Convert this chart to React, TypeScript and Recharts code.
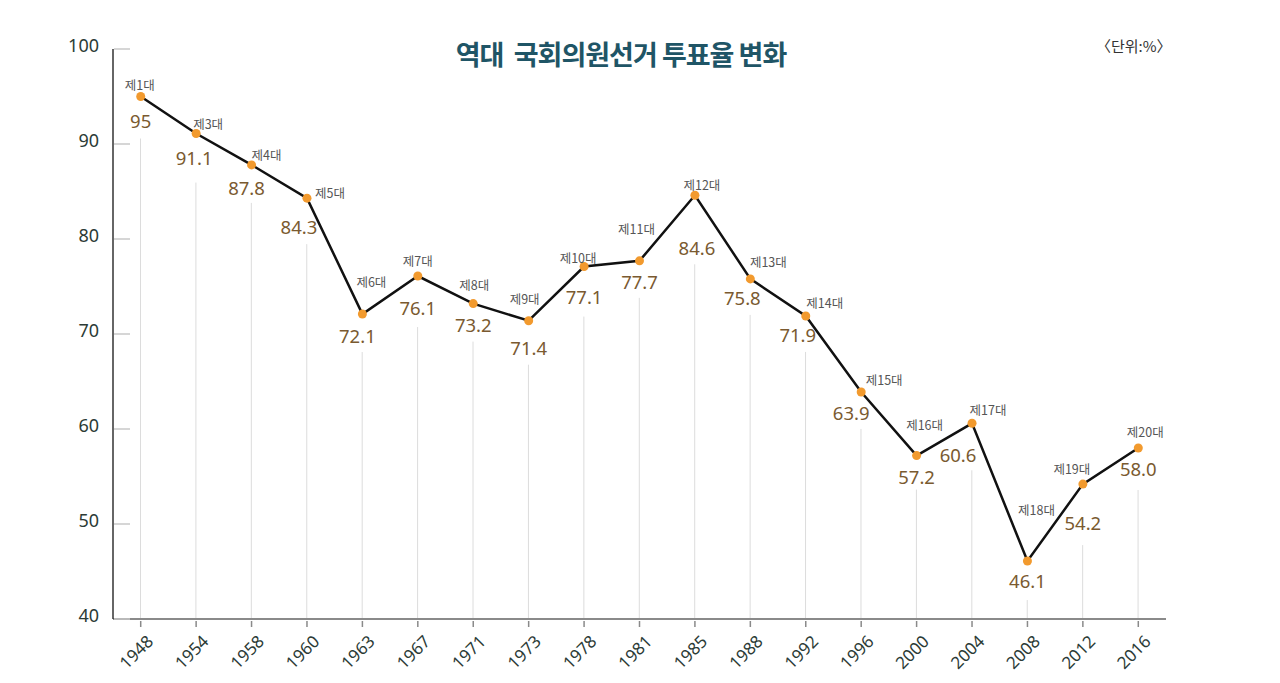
import React from "react";
import {
  ComposedChart,
  Line,
  Bar,
  XAxis,
  YAxis,
  LabelList,
} from "recharts";

const YEARS = [
  "1948", "1954", "1958", "1960", "1963", "1967", "1971", "1973", "1978", "1981",
  "1985", "1988", "1992", "1996", "2000", "2004", "2008", "2012", "2016",
];
const TERMS = [
  "제1대", "제3대", "제4대", "제5대", "제6대", "제7대", "제8대", "제9대", "제10대", "제11대",
  "제12대", "제13대", "제14대", "제15대", "제16대", "제17대", "제18대", "제19대", "제20대",
];
const TURNOUT = [
  95, 91.1, 87.8, 84.3, 72.1, 76.1, 73.2, 71.4, 77.1, 77.7,
  84.6, 75.8, 71.9, 63.9, 57.2, 60.6, 46.1, 54.2, 58.0,
];
const VALUE_TEXT = [
  "95", "91.1", "87.8", "84.3", "72.1", "76.1", "73.2", "71.4", "77.1", "77.7",
  "84.6", "75.8", "71.9", "63.9", "57.2", "60.6", "46.1", "54.2", "58.0",
];
const Y_TICKS = [40, 50, 60, 70, 80, 90, 100];

// label placement around each point: [nameDx, nameDy, valueDx, valueDy, dropGap]
const PLACEMENT = [
  [-1, -12, 0, 24, 42],
  [12, -10, -2, 24, 49],
  [15, -10, -5, 23, 38],
  [23, -6, -8, 28, 46],
  [9, -33, -5, 21, 38],
  [0, -16, 0, 31, 51],
  [1, -19, 0, 21, 38],
  [-4, -22, 0, 27, 44],
  [-6, -9, 0, 30, 50],
  [-3, -32, 0, 21, 37],
  [7, -11, 2, 52, 69],
  [18, -17, -8, 19, 36],
  [19, -13, -8, 19, 36],
  [23, -12, -10, 21, 37],
  [8, -31, 0, 21, 34],
  [16, -14, -14, 31, 47],
  [9, -52, 0, 19, 39],
  [-11, -16, 0, 38, 61],
  [7, -17, 0, 20, 42],
];

const data = YEARS.map((year, i) => ({
  year,
  term: TERMS[i],
  turnout: TURNOUT[i],
}));

const NUM_FONT = "'Noto Sans', 'Noto Sans CJK KR', sans-serif";
const KR_FONT = "'Noto Sans CJK KR', 'Noto Sans', sans-serif";

function DropLine(props: any) {
  const { x, y, width, height, index } = props;
  const cx = x + width / 2;
  const top = y + PLACEMENT[index][4];
  const bottom = y + height;
  if (top >= bottom) return null;
  return <line x1={cx} x2={cx} y1={top} y2={bottom} stroke="#dcdcdc" strokeWidth={1} />;
}

function PointLabel(props: any) {
  const { x, y, index } = props;
  const [ndx, ndy, vdx, vdy] = PLACEMENT[index];
  return (
    <g>
      <text
        x={x + ndx}
        y={y + ndy}
        textAnchor="middle"
        dominantBaseline="central"
        fontSize={12.5}
        fill="#555"
        fontFamily={KR_FONT}
      >
        {TERMS[index]}
      </text>
      <text
        x={x + vdx}
        y={y + vdy}
        textAnchor="middle"
        dominantBaseline="central"
        fontSize={18.5}
        fill="#7a5a30"
        fontFamily={NUM_FONT}
      >
        {VALUE_TEXT[index]}
      </text>
    </g>
  );
}

function YTick(props: any) {
  const { x, y, payload } = props;
  return (
    <g>
      <line x1={x + 1} x2={x + 17} y1={y} y2={y} stroke="#c8c8c8" strokeWidth={1.5} />
      <text
        x={x - 14}
        y={y - 4}
        textAnchor="end"
        dominantBaseline="central"
        fontSize={18}
        fill="#2c3b36"
        fontFamily={NUM_FONT}
      >
        {payload.value}
      </text>
    </g>
  );
}

function XTick(props: any) {
  const { x, y, payload } = props;
  return (
    <g>
      <line x1={x} x2={x} y1={y} y2={y + 6} stroke="#8a8a8a" strokeWidth={1.5} />
      <text
        x={x + 9}
        y={y + 17}
        textAnchor="end"
        dominantBaseline="central"
        fontSize={17}
        fill="#2c3b36"
        fontFamily={NUM_FONT}
        transform={`rotate(-45 ${x + 9} ${y + 17})`}
      >
        {payload.value}
      </text>
    </g>
  );
}

export default function App() {
  return (
    <div style={{ position: "absolute", left: 0, top: 0, width: 1280, height: 683, background: "#fff" }}>
      <div
        style={{
          position: "absolute",
          left: 0,
          width: 1242,
          top: 34,
          textAlign: "center",
          fontFamily: KR_FONT,
          fontWeight: 700,
          fontSize: 27,
          color: "#1f5566",
          whiteSpace: "pre",
          letterSpacing: -1,
        }}
      >
        {"역대  국회의원선거 투표율 변화"}
      </div>
      <div
        style={{
          position: "absolute",
          left: 1096,
          top: 35,
          fontFamily: KR_FONT,
          fontSize: 15,
          color: "#333",
        }}
      >
        〈단위:%〉
      </div>
      <ComposedChart
        width={1280}
        height={683}
        data={data}
        margin={{ top: 49, right: 114, bottom: 0, left: 13 }}
        barCategoryGap={0}
      >
        <XAxis
          dataKey="year"
          height={64}
          interval={0}
          tick={<XTick />}
          tickLine={false}
          axisLine={{ stroke: "#8a8a8a", strokeWidth: 2 }}
          tickSize={0}
        />
        <YAxis
          width={100}
          domain={[40, 100]}
          ticks={Y_TICKS}
          interval={0}
          tick={<YTick />}
          tickLine={false}
          tickSize={0}
          tickMargin={0}
          axisLine={{ stroke: "#333", strokeWidth: 1.5 }}
        />
        <Bar dataKey="turnout" barSize={1} shape={<DropLine />} isAnimationActive={false} />
        <Line
          type="linear"
          dataKey="turnout"
          stroke="#111"
          strokeWidth={2.5}
          dot={{ r: 4.5, fill: "#f29a2e", stroke: "none" }}
          activeDot={false}
          isAnimationActive={false}
        >
          <LabelList dataKey="turnout" content={<PointLabel />} />
        </Line>
      </ComposedChart>
    </div>
  );
}
